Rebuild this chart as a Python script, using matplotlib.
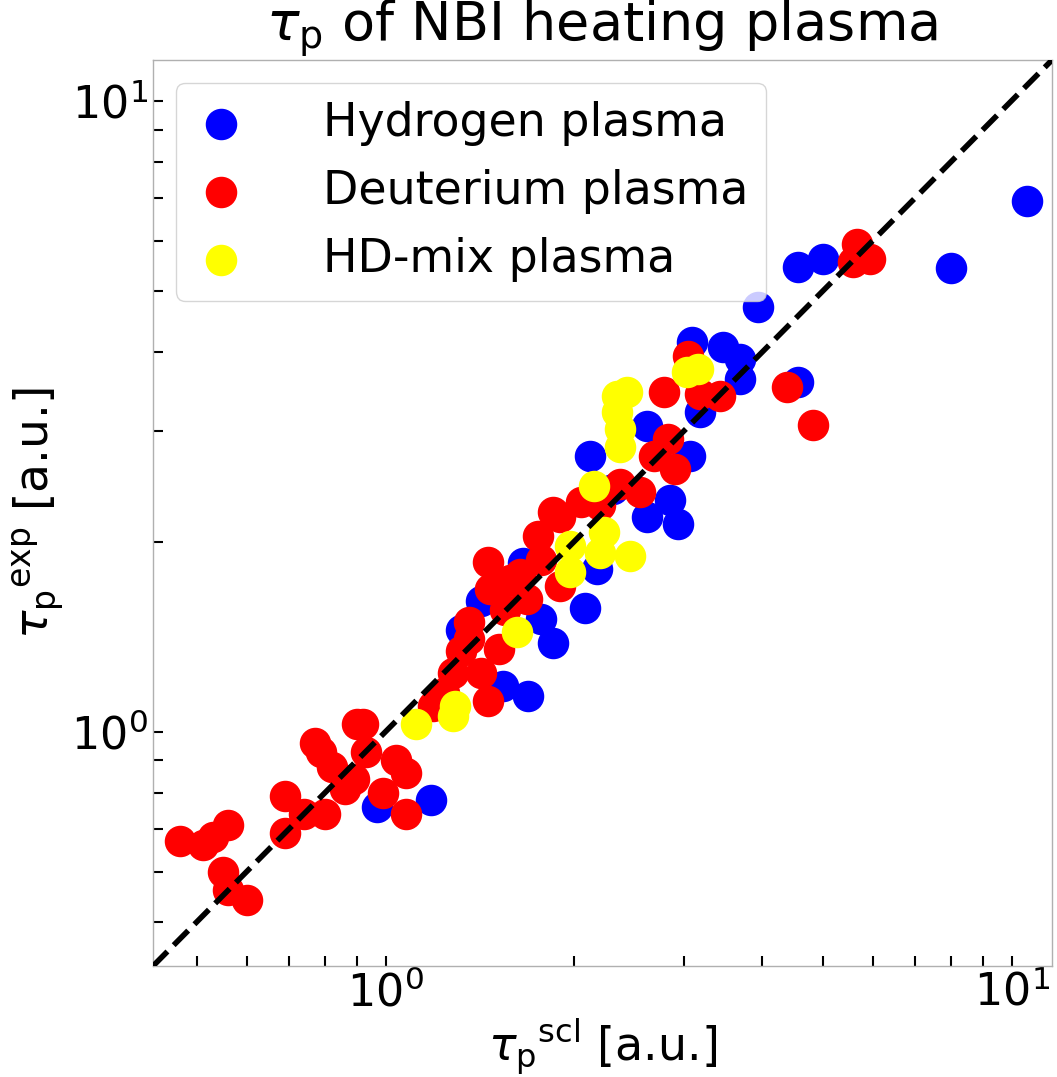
import numpy as np
import matplotlib.pyplot as plt

h_scl = [10.59, 8.01, 5.00, 4.56, 3.94, 4.56, 3.09, 3.46, 3.68, 3.68,
         3.18, 2.62, 2.12, 3.06, 2.31, 2.85, 2.62, 2.93, 2.18, 2.08,
         1.66, 1.42, 1.77, 1.85, 1.32, 1.54, 1.69, 0.97, 1.18]
h_exp = [6.94, 5.43, 5.61, 5.45, 4.71, 3.58, 4.14, 4.07, 3.89, 3.62,
         3.21, 3.05, 2.73, 2.73, 2.42, 2.33, 2.19, 2.13, 1.81, 1.57,
         1.85, 1.61, 1.51, 1.38, 1.45, 1.18, 1.14, 0.76, 0.78]

d_scl = [5.67, 5.94, 5.58, 4.38, 4.82, 3.04, 2.78, 3.42, 3.18, 2.68,
         2.90, 2.55, 2.05, 1.85, 1.90, 1.75, 1.46, 1.58, 1.47, 1.90,
         1.68, 1.36, 1.52, 1.32, 1.28, 1.42, 1.46, 1.19, 1.24, 0.92,
         0.47, 0.51, 0.53, 0.56, 0.55, 0.56, 0.60, 0.69, 0.69, 0.74,
         0.80, 0.77, 0.79, 0.82, 0.86, 0.90, 0.93, 0.89, 1.04, 1.08,
         0.99, 1.08, 2.20, 2.37, 1.64, 1.55, 1.77, 1.36, 2.83]
d_exp = [5.93, 5.61, 5.55, 3.52, 3.06, 3.94, 3.45, 3.40, 3.43, 2.73,
         2.61, 2.40, 2.31, 2.23, 2.19, 2.04, 1.86, 1.74, 1.68, 1.70,
         1.62, 1.49, 1.35, 1.34, 1.24, 1.24, 1.12, 1.10, 1.15, 1.03,
         0.67, 0.66, 0.68, 0.71, 0.60, 0.56, 0.54, 0.69, 0.79, 0.74,
         0.74, 0.96, 0.93, 0.88, 0.81, 1.03, 0.93, 0.84, 0.90, 0.86,
         0.80, 0.74, 2.29, 2.47, 1.78, 1.56, 1.87, 1.40, 2.91]

hd_scl = [3.03, 3.15, 2.34, 2.43, 2.34, 2.37, 2.37, 2.15, 2.23, 1.97,
          2.46, 2.20, 1.97, 1.62, 1.29, 1.28, 1.12]
hd_exp = [3.71, 3.75, 3.40, 3.45, 3.21, 3.02, 2.83, 2.45, 2.07, 1.97,
          1.90, 1.92, 1.79, 1.44, 1.10, 1.06, 1.03]

lims = [0.425, 11.6]

fig = plt.figure(figsize=(10.57, 10.77), dpi=100)
ax = fig.add_axes([0.1447, 0.1030, 0.8505, 0.8412])

ax.scatter(h_scl, h_exp, s=470, color='blue', label='Hydrogen plasma')
ax.scatter(d_scl, d_exp, s=470, color='red', label='Deuterium plasma')
ax.scatter(hd_scl, hd_exp, s=470, color='yellow', label='HD-mix plasma')
ax.plot(lims, lims, color='black', linestyle='--', linewidth=4, zorder=5)

ax.set_xscale('log')
ax.set_yscale('log')
ax.set_xlim(lims)
ax.set_ylim(lims)

ax.set_title(r'$\tau_{\rm p}$ of NBI heating plasma', fontsize=39, pad=1)
ax.set_xlabel(r'$\tau_{\rm p}$$^{\rm scl}$ [a.u.]', fontsize=33, labelpad=1)
ax.set_ylabel(r'$\tau_{\rm p}$$^{\rm exp}$ [a.u.]', fontsize=34)

ax.tick_params(which='both', direction='in', length=7, width=1.5, labelsize=32)
for sp in ax.spines.values():
    sp.set_color('#b0b0b0')
    sp.set_linewidth(1)

ax.legend(loc='upper left', fontsize=33, handletextpad=1.65, handlelength=1.15)

fig.savefig('out.png', dpi=100)
